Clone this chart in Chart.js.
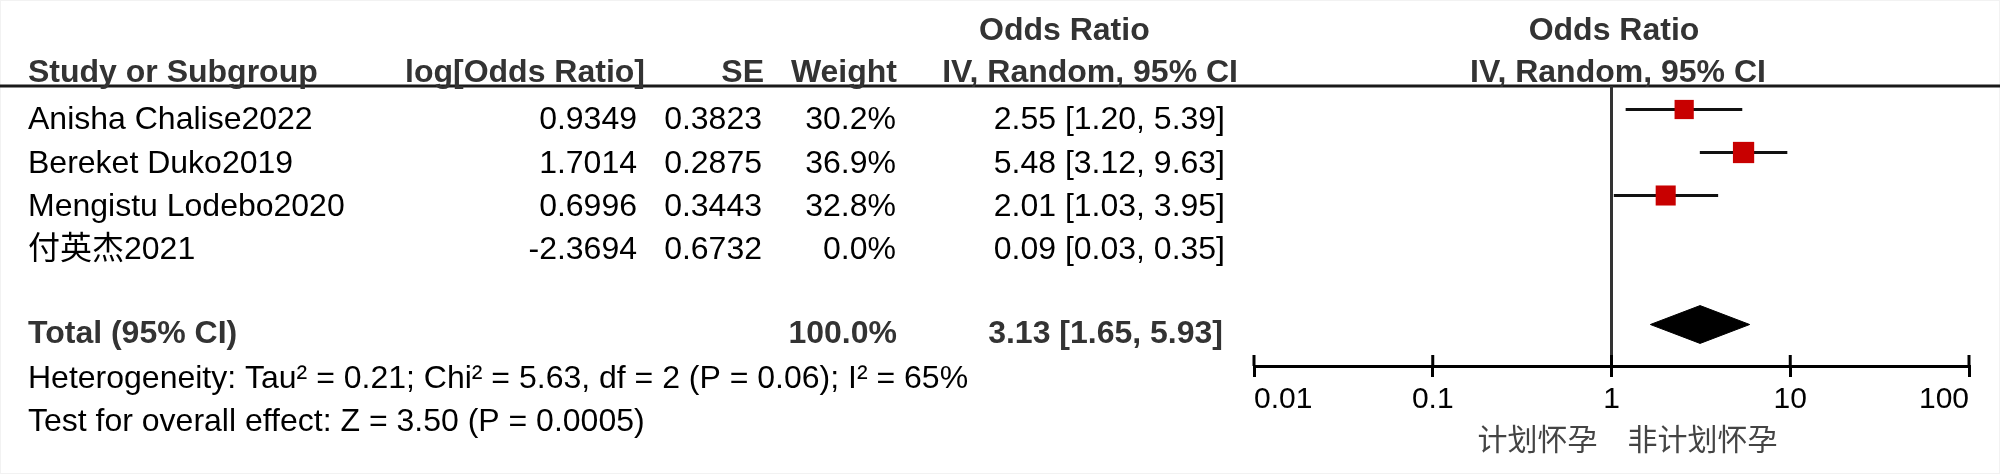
<!DOCTYPE html>
<html><head><meta charset="utf-8">
<script src="https://cdn.jsdelivr.net/npm/chart.js@4.4.1/dist/chart.umd.min.js"></script>
<style>html,body{margin:0;padding:0;background:#fff;}canvas{display:block;}</style>
</head><body>
<canvas id="c" width="2000" height="474"></canvas>
<script>
// ---- data ----
const studies = ['Anisha Chalise2022', 'Bereket Duko2019', 'Mengistu Lodebo2020', '付英杰2021'];
const logOR = [0.9349, 1.7014, 0.6996, -2.3694];
const seVals = [0.3823, 0.2875, 0.3443, 0.6732];
const weights = [30.2, 36.9, 32.8, 0.0];
const orVals = [2.55, 5.48, 2.01, 0.09];
const ciLow = [1.20, 3.12, 1.03, 0.03];
const ciHigh = [5.39, 9.63, 3.95, 0.35];
const totalWeight = 100.0;
const totalOR = 3.13;
const totalLow = 1.65;
const totalHigh = 5.93;
const tickValues = [0.01, 0.1, 1, 10, 100];
const tickLabels = ['0.01', '0.1', '1', '10', '100'];
const favoursLeft = '计划怀孕';
const favoursRight = '非计划怀孕';
const heterogeneityText = 'Heterogeneity: Tau² = 0.21; Chi² = 5.63, df = 2 (P = 0.06); I² = 65%';
const overallText = 'Test for overall effect: Z = 3.50 (P = 0.0005)';

// ---- styling / layout ----
const FONT = "'Liberation Sans', Arial, 'Noto Sans CJK SC', sans-serif";
const CJK = "'Noto Sans CJK SC', sans-serif";
const RED = '#c80000';
const Y_MIN = -0.5465, Y_MAX = 5.965;
const totalRow = studies.length + 1;
const diamondHalf = 0.44;

const plotted = studies.map((s, i) => i).filter(i => weights[i] > 0);

const datasets = [];
datasets.push({
  label: 'OR', order: 0,
  data: plotted.map(i => ({x: orVals[i], y: i})),
  pointStyle: 'rect',
  pointRadius: plotted.map(i => 3.5 * Math.sqrt(weights[i]) / Math.SQRT2),
  backgroundColor: RED, borderColor: RED, borderWidth: 0,
  showLine: false
});
plotted.forEach(i => {
  datasets.push({
    label: 'CI ' + studies[i], order: 1,
    data: [{x: ciLow[i], y: i}, {x: ciHigh[i], y: i}],
    showLine: true, borderColor: '#111', borderWidth: 3, pointRadius: 0, fill: false
  });
});
datasets.push({
  label: 'Total', order: 2,
  data: [
    {x: totalLow, y: totalRow},
    {x: totalOR, y: totalRow - diamondHalf},
    {x: totalHigh, y: totalRow},
    {x: totalOR, y: totalRow + diamondHalf},
    {x: totalLow, y: totalRow}
  ],
  showLine: true, borderColor: '#000', borderWidth: 1, backgroundColor: '#000',
  pointRadius: 0, fill: 'shape', tension: 0
});

function txt(ctx, s, x, y, align, bold, color, size, family) {
  ctx.font = (bold ? 'bold ' : '') + (size || 32) + 'px ' + (family || FONT);
  ctx.fillStyle = color || '#000';
  ctx.textAlign = align;
  ctx.textBaseline = 'alphabetic';
  ctx.fillText(s, x, y);
}

const forestPlugin = {
  id: 'forestDecor',
  beforeDatasetsDraw(chart) {
    const {ctx, chartArea, scales: {x}} = chart;
    ctx.save();
    // very faint frame
    ctx.strokeStyle = '#f2f2f2'; ctx.lineWidth = 1;
    ctx.strokeRect(0.5, 0.5, chart.width - 1, chart.height - 1);
    ctx.strokeStyle = '#1a1a1a'; ctx.lineWidth = 3;
    ctx.beginPath(); ctx.moveTo(0, chartArea.top); ctx.lineTo(chart.width, chartArea.top); ctx.stroke();
    const x1 = x.getPixelForValue(1);
    ctx.strokeStyle = '#333'; ctx.lineWidth = 3;
    ctx.beginPath(); ctx.moveTo(x1, chartArea.top); ctx.lineTo(x1, chartArea.bottom); ctx.stroke();
    ctx.strokeStyle = '#000';
    tickValues.forEach(v => {
      const px = x.getPixelForValue(v);
      ctx.beginPath(); ctx.moveTo(px, chartArea.bottom - 11); ctx.lineTo(px, chartArea.bottom); ctx.stroke();
    });
    ctx.restore();
  },
  afterDraw(chart) {
    const {ctx, scales: {x, y}} = chart;
    ctx.save();
    const H = '#333';
    // headers
    txt(ctx, 'Odds Ratio', 979, 40, 'left', true, H);
    txt(ctx, 'Odds Ratio', 1614, 40, 'center', true, H);
    txt(ctx, 'Study or Subgroup', 28, 82, 'left', true, H);
    txt(ctx, 'log[Odds Ratio]', 645, 82, 'right', true, H);
    txt(ctx, 'SE', 764, 82, 'right', true, H);
    txt(ctx, 'Weight', 897, 82, 'right', true, H);
    txt(ctx, 'IV, Random, 95% CI', 1238, 82, 'right', true, H);
    txt(ctx, 'IV, Random, 95% CI', 1618, 82, 'center', true, H);
    // rows
    studies.forEach((s, i) => {
      const by = y.getPixelForValue(i) + 20;
      txt(ctx, s, 28, by, 'left', false, '#000');
      txt(ctx, logOR[i].toFixed(4), 637, by, 'right', false, '#000');
      txt(ctx, seVals[i].toFixed(4), 762, by, 'right', false, '#000');
      txt(ctx, weights[i].toFixed(1) + '%', 896, by, 'right', false, '#000');
      txt(ctx, orVals[i].toFixed(2) + ' [' + ciLow[i].toFixed(2) + ', ' + ciHigh[i].toFixed(2) + ']', 1225, by, 'right', false, '#000');
    });
    const ty = y.getPixelForValue(totalRow) + 18;
    txt(ctx, 'Total (95% CI)', 28, ty, 'left', true, H);
    txt(ctx, totalWeight.toFixed(1) + '%', 897, ty, 'right', true, H);
    txt(ctx, totalOR.toFixed(2) + ' [' + totalLow.toFixed(2) + ', ' + totalHigh.toFixed(2) + ']', 1223, ty, 'right', true, H);
    txt(ctx, heterogeneityText, 28, 388, 'left', false, '#000');
    txt(ctx, overallText, 28, 431, 'left', false, '#000');
    // favours labels
    const x1 = x.getPixelForValue(1);
    txt(ctx, favoursLeft, x1 - 14, 450, 'right', false, '#444', 30, CJK);
    txt(ctx, favoursRight, x1 + 16, 450, 'left', false, '#444', 30, CJK);
    ctx.restore();
  }
};

new Chart(document.getElementById('c'), {
  type: 'scatter',
  data: {datasets},
  options: {
    responsive: false, animation: false, events: [],
    layout: {padding: {left: 1254, right: 31, top: 86, bottom: 0}},
    plugins: {legend: {display: false}, tooltip: {enabled: false}, title: {display: false}},
    scales: {
      x: {
        type: 'logarithmic', min: 0.01, max: 100, position: 'bottom',
        afterBuildTicks: s => { s.ticks = tickValues.map(v => ({value: v})); },
        afterFit: s => { s.height = 108; },
        ticks: {
          align: 'inner', maxRotation: 0, autoSkip: false, padding: 5, color: '#000',
          font: {family: FONT, size: 30},
          callback: (v, i) => tickLabels[i]
        },
        grid: {drawOnChartArea: false, drawTicks: true, tickLength: 11, color: '#000', lineWidth: 3},
        border: {display: true, color: '#000', width: 3}
      },
      y: {type: 'linear', min: Y_MIN, max: Y_MAX, reverse: true, display: false}
    }
  },
  plugins: [forestPlugin]
});
</script>
</body></html>
